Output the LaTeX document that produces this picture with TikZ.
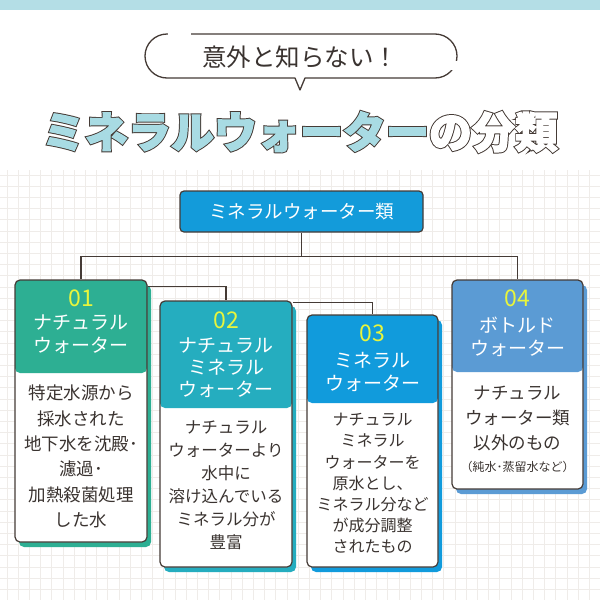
\documentclass[tikz,border=0pt]{standalone}
\usepackage{fontspec}
\setmainfont{Noto Sans CJK JP}
\usetikzlibrary{calc,shadows}
\definecolor{band}{HTML}{B4DEE6}
\definecolor{tfill}{HTML}{A8DBE3}
\definecolor{lc}{HTML}{453B36}
\definecolor{txt}{HTML}{3A3330}
\definecolor{gridc}{HTML}{EFECE9}
\definecolor{ctop}{HTML}{139BDA}
\definecolor{c1}{HTML}{2DAF93}
\definecolor{c2}{HTML}{25ADBF}
\definecolor{c3}{HTML}{119BDC}
\definecolor{c4}{HTML}{5B9BD4}
\definecolor{yel}{HTML}{E8F53C}
\tikzset{
  conn/.style={draw=lc, line width=1.2pt},
  cbox/.style 2 args={draw=lc, line width=1.2pt, fill=white, rounded corners=5pt, inner sep=0pt,
    general shadow={fill=#1, shadow xshift=4pt, shadow yshift=-5pt},
    path picture={\fill[#1] (path picture bounding box.north west) rectangle ([yshift=-#2]path picture bounding box.north east);}},
  topbox/.style={draw=lc, line width=1.2pt, fill=ctop, rounded corners=4pt, text=white,
    minimum width=243pt, minimum height=41pt, inner sep=0pt, font=\fontsize{18.5}{18.5}\selectfont},
  numtxt/.style={text=yel, font=\fontsize{23}{23}\selectfont},
  hdtxt/.style={text=white, align=center, font=\fontsize{19}{23}\selectfont},
  bodytxt/.style={text=txt, align=center},
  ttl/.style={font=\fontsize{43}{43}\selectfont\bfseries},
}
\begin{document}
\begin{tikzpicture}[x=1pt,y=-1pt]
\useasboundingbox (0,0) rectangle (600,600);
\fill[white] (0,0) rectangle (600,600);
\fill[band] (0,0) rectangle (600,10);
% grid
\foreach \i in {0,...,53} \draw[gridc, line width=0.8pt] ({7+11.2*\i},170) -- ({7+11.2*\i},600);
\foreach \i in {0,...,38} \draw[gridc, line width=0.8pt] (0,{175+11.2*\i}) -- (600,{175+11.2*\i});
% speech bubble
\draw[lc, line width=1.3pt, line join=round] (305,78) -- (300,90) -- (295,78) -- (167,78)
  .. controls (154.85,78) and (145,68.15) .. (145,56)
  .. controls (145,43.85) and (154.85,34) .. (167,34) -- (435,34)
  .. controls (447.15,34) and (457,43.85) .. (457,56)
  .. controls (457,68.15) and (447.15,78) .. (435,78) -- cycle;
\fill[white] (168,30) rectangle (191,38);
\fill[white] (451,61) rectangle (461,70);
\node[text=txt, font=\fontsize{24.5}{24.5}\selectfont] (bub) at (300,57) {意外と知らない！};
% title: outline layer (fake-bold stroke) and fill layer
\node[ttl, text=lc] (titleout) at (300,132) {\addfontfeatures{FakeBold=7}ミネラルウォーターの分類};
\node[ttl] (title) at (300,132) {\addfontfeatures{FakeBold=2.5}\textcolor{tfill}{ミネラルウォーター}\textcolor{white}{の分類}};
% top node
\node[topbox] (top) at (301.5,211.5) {ミネラルウォーター類};
% boxes
\node[cbox={c1}{93pt}, minimum width=132pt, minimum height=262pt] (b1) at (81,411) {};
\node[cbox={c2}{107pt}, minimum width=132pt, minimum height=266pt] (b2) at (226,434) {};
\node[cbox={c3}{88pt}, minimum width=131pt, minimum height=252pt] (b3) at (372.5,441) {};
\node[cbox={c4}{92pt}, minimum width=131pt, minimum height=209pt] (b4) at (517.5,384.5) {};
% connectors
\coordinate (j) at ($(top.south)+(0,24)$);
\draw[conn] (top.south) -- (j);
\draw[conn] (b1.north) |- (j) -| (b4.north);
\draw[conn] ($(b1.north east)+(0,7)$) -| (b2.north);
\draw[conn] ($(b2.north east)+(0,2)$) -| (b3.north);
% box 01
\node[numtxt] (n1) at (81,298) {01};
\node[hdtxt] (h1) at (81,334.5) {ナチュラル\\ウォーター};
\node[bodytxt, font=\fontsize{17.5}{25.4}\selectfont] (t1) at (81,456.5)
  {特定水源から\\採水された\\地下水を沈殿･\\濾過･\\加熱殺菌処理\\した水};
% box 02
\node[numtxt] (n2) at (226,320) {02};
\node[hdtxt, font=\fontsize{19}{22}\selectfont] (h2) at (226,368) {ナチュラル\\ミネラル\\ウォーター};
\node[bodytxt, font=\fontsize{16.5}{23}\selectfont] (t2) at (226,485.5)
  {ナチュラル\\ウォーターより\\水中に\\溶け込んでいる\\ミネラル分が\\豊富};
% box 03
\node[numtxt] (n3) at (372.5,333) {03};
\node[hdtxt] (h3) at (372.5,371.5) {ミネラル\\ウォーター};
\node[bodytxt, font=\fontsize{16}{21.2}\selectfont] (t3) at (372.5,483.5)
  {ナチュラル\\ミネラル\\ウォーターを\\原水とし、\\ミネラル分など\\が成分調整\\されたもの};
% box 04
\node[numtxt] (n4) at (517.5,298) {04};
\node[hdtxt] (h4) at (517.5,336.5) {ボトルド\\ウォーター};
\node[bodytxt, font=\fontsize{17.5}{25}\selectfont] (t4) at (517.5,418)
  {ナチュラル\\ウォーター類\\以外のもの};
\node[bodytxt, font=\fontsize{12}{12}\selectfont] (p4) at (517.5,467) {（純水･蒸留水など）};
\end{tikzpicture}
\end{document}
